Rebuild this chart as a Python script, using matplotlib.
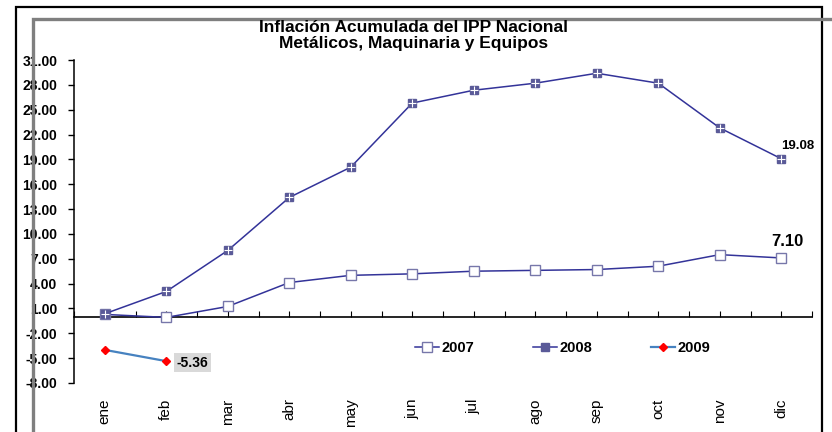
import numpy as np
import matplotlib.pyplot as plt
from matplotlib.patches import Rectangle

plt.rcParams['font.family'] = ['Liberation Sans', 'DejaVu Sans']

# data
meses = ['ene', 'feb', 'mar', 'abr', 'may', 'jun', 'jul', 'ago', 'sep', 'oct', 'nov', 'dic']
v2007 = [0.28, -0.08, 1.24, 4.13, 5.0, 5.18, 5.5, 5.6, 5.7, 6.1, 7.5, 7.10]
v2008 = [0.36, 3.05, 8.0, 14.4, 18.06, 25.8, 27.35, 28.2, 29.4, 28.2, 22.8, 19.08]
v2009 = [-4.0, -5.36]
yticks = [31, 28, 25, 22, 19, 16, 13, 10, 7, 4, 1, -2, -5, -8]

fig = plt.figure(figsize=(8.32, 4.32), dpi=100)
ax = fig.add_axes([74/832, 1-383/432, (812-74)/832, (383-60)/432])

x = np.arange(len(meses))
navy = '#333399'

ax.plot(x, v2007, color=navy, lw=1.1, marker='s', ms=6.5,
        mfc='white', mec='#7777aa', mew=1.0, label='2007', zorder=3)
ax.plot(x, v2008, color=navy, lw=1.1, marker='s', ms=6,
        mfc='#5a5a98', mec='#5a5a98', label='2008', zorder=3)
ax.plot(x, v2008, ls='none', marker='+', ms=5.5, mec='white', mew=0.8, zorder=4)
ax.plot(x[:len(v2009)], v2009, color='#4682c0', lw=1.6, marker='D', ms=4.5,
        mfc='red', mec='red', label='2009', zorder=3)

ymin, ymax = -8, 31
ax.set_xlim(-0.5, len(meses) - 0.5)
ax.set_ylim(ymin, ymax)
ax.set_yticks(yticks)
ax.set_yticklabels([f'{v:.2f}' for v in yticks], fontsize=10, fontweight='bold')
ax.tick_params(axis='y', direction='out', length=4, width=1, pad=8)

ax.set_xticks(x)
ax.set_xticklabels(meses, rotation=90, fontsize=11)
ax.tick_params(axis='x', length=0, pad=11)

for s in ['top', 'right', 'bottom']:
    ax.spines[s].set_visible(False)
ax.spines['left'].set_linewidth(1.1)

# zero line with the category ticks
sec = ax.secondary_xaxis((0 - ymin) / (ymax - ymin))
sec.set_xticks(np.arange(-0.5, len(meses), 0.5))
sec.tick_params(axis='x', direction='in', length=4, width=0.8, labelbottom=False)
sec.spines['bottom'].set_linewidth(1.2)

# data labels
ax.annotate('19.08', (x[-1], v2008[-1]), xytext=(11.5, 9.5), textcoords='offset points',
            ha='center', va='center', fontsize=9.5, fontweight='bold')
ax.annotate('7.10', (x[-1], v2007[-1]), xytext=(4.5, 11.5), textcoords='offset points',
            ha='center', va='center', fontsize=12, fontweight='bold')
ax.annotate('-5.36', (x[1], v2009[-1]), xytext=(19, -1), textcoords='offset points',
            ha='center', va='center', fontsize=10, fontweight='bold',
            bbox=dict(boxstyle='square,pad=0.2', fc='#d9d9d9', ec='none'))

fig.text(0.497, 0.918, 'Inflación Acumulada del IPP Nacional\nMetálicos, Maquinaria y Equipos',
         ha='center', va='center', fontsize=12.5, fontweight='bold', linespacing=1.12,
         zorder=6)

handles, labels = ax.get_legend_handles_labels()
fig.legend(handles, labels, loc='center', bbox_to_anchor=(0.676, 0.194), ncol=3,
           frameon=False, prop={'weight': 'bold', 'size': 10.5}, handlelength=1.7,
           columnspacing=4.0, handletextpad=0.15)

# frames around the chart
fig.add_artist(Rectangle((16/832, -0.1), (822-16)/832, 1.1 - 7/432, transform=fig.transFigure,
                         fill=False, ec='black', lw=1.6))
fig.add_artist(Rectangle((33/832, -0.1), 1.0, 1.1 - 19/432, transform=fig.transFigure,
                         fill=False, ec='#7f7f7f', lw=2.4, zorder=5))

fig.savefig('out.png', dpi=100)
